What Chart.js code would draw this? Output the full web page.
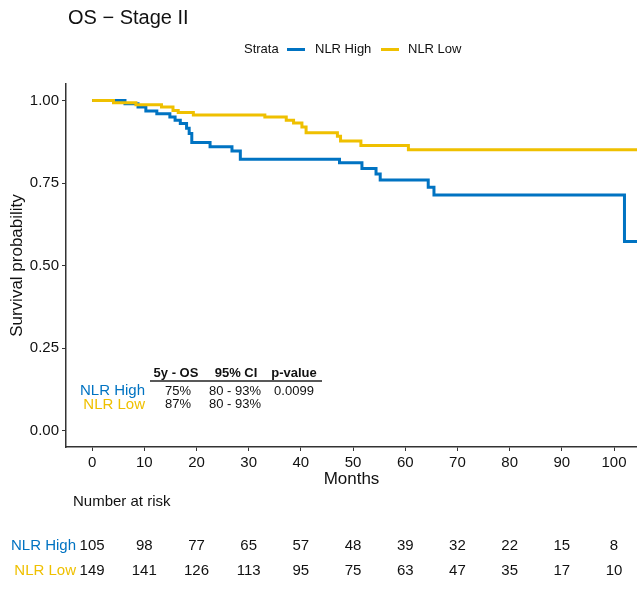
<!DOCTYPE html>
<html>
<head>
<meta charset="utf-8">
<title>OS − Stage II</title>
<script src="https://cdn.jsdelivr.net/npm/chart.js@4/dist/chart.umd.min.js"></script>
<style>
  html, body { margin: 0; padding: 0; background: #ffffff; }
  #wrap { position: relative; width: 637px; height: 592px; }
</style>
</head>
<body>
<div id="wrap"><canvas id="km" width="637" height="592"></canvas></div>
<script>
// Kaplan–Meier step estimates (months, survival probability after each step)
const highTimes = [0, 6.3, 8.8, 10.3, 12.4, 14.9, 15.9, 16.9, 18.1, 18.6, 19.1, 22.6, 26.8, 28.4, 47.4, 51.7, 54.4, 55.2, 64.4, 65.5, 102.0, 104.4];
const highSurv  = [1.0, 0.99, 0.98, 0.968, 0.96, 0.95, 0.94, 0.93, 0.916, 0.90, 0.873, 0.86, 0.847, 0.822, 0.811, 0.794, 0.777, 0.759, 0.737, 0.714, 0.573, 0.573];

const lowTimes = [0, 4.1, 8.4, 13.3, 15.5, 16.5, 19.4, 33.1, 37.2, 38.6, 40.2, 41.0, 47.0, 47.6, 51.5, 60.6, 104.4];
const lowSurv  = [1.0, 0.993, 0.987, 0.98, 0.97, 0.964, 0.956, 0.95, 0.94, 0.932, 0.92, 0.902, 0.892, 0.877, 0.864, 0.851, 0.851];

// Axis ticks
const monthTicks = [0, 10, 20, 30, 40, 50, 60, 70, 80, 90, 100];
const probTicks = [0, 0.25, 0.5, 0.75, 1.0];

// Number at risk at each month tick
const riskHigh = [105, 98, 77, 65, 57, 48, 39, 32, 22, 15, 8];
const riskLow  = [149, 141, 126, 113, 95, 75, 63, 47, 35, 17, 10];

// Summary table
const strata = ['NLR High', 'NLR Low'];
const os5y = ['75%', '87%'];
const ci95 = ['80 - 93%', '80 - 93%'];
const pValue = '0.0099';

const BLUE = '#0073C2';
const YELLOW = '#EFC000';
const INK = '#111111';
const FONT = '"Liberation Sans", Arial, Helvetica, sans-serif';

function toPoints(xs, ys) {
  return xs.map((x, i) => ({ x: x, y: ys[i] }));
}

const extras = {
  id: 'kmExtras',
  afterDraw(chart) {
    const ctx = chart.ctx;
    const xs = chart.scales.x;
    ctx.save();
    ctx.textBaseline = 'middle';

    // Title
    ctx.fillStyle = INK;
    ctx.font = '20px ' + FONT;
    ctx.textAlign = 'left';
    ctx.fillText('OS \u2212 Stage II', 68, 18);

    // Legend
    ctx.font = '13px ' + FONT;
    ctx.fillStyle = INK;
    ctx.fillText('Strata', 244, 49.5);
    ctx.lineWidth = 3;
    ctx.strokeStyle = BLUE;
    ctx.beginPath(); ctx.moveTo(287, 49.5); ctx.lineTo(305, 49.5); ctx.stroke();
    ctx.fillStyle = INK;
    ctx.fillText(strata[0], 315, 49.5);
    ctx.strokeStyle = YELLOW;
    ctx.beginPath(); ctx.moveTo(381, 49.5); ctx.lineTo(399, 49.5); ctx.stroke();
    ctx.fillStyle = INK;
    ctx.fillText(strata[1], 408, 49.5);

    // Summary table inside the plot
    ctx.font = 'bold 13px ' + FONT;
    ctx.textAlign = 'center';
    ctx.fillStyle = INK;
    ctx.fillText('5y - OS', 176, 373);
    ctx.fillText('95% CI', 236, 373);
    ctx.fillText('p-value', 294, 373);
    ctx.strokeStyle = '#222';
    ctx.lineWidth = 1.5;
    ctx.beginPath(); ctx.moveTo(150, 381); ctx.lineTo(322, 381); ctx.stroke();

    const rowY = [391, 404.5];
    const rowCol = [BLUE, YELLOW];
    for (let i = 0; i < strata.length; i++) {
      ctx.font = '15px ' + FONT;
      ctx.textAlign = 'right';
      ctx.fillStyle = rowCol[i];
      ctx.fillText(strata[i], 145, rowY[i]);
      ctx.font = '13px ' + FONT;
      ctx.textAlign = 'center';
      ctx.fillStyle = INK;
      ctx.fillText(os5y[i], 178, rowY[i]);
      ctx.fillText(ci95[i], 235, rowY[i]);
    }
    ctx.fillText(pValue, 294, rowY[0]);

    // Number at risk table
    ctx.font = '15px ' + FONT;
    ctx.textAlign = 'left';
    ctx.fillStyle = INK;
    ctx.fillText('Number at risk', 73, 502);

    const riskRows = [riskHigh, riskLow];
    const riskY = [546, 571];
    for (let r = 0; r < riskRows.length; r++) {
      ctx.textAlign = 'right';
      ctx.fillStyle = rowCol[r];
      ctx.fillText(strata[r], 76, riskY[r]);
      ctx.textAlign = 'center';
      ctx.fillStyle = INK;
      riskRows[r].forEach((n, i) => {
        ctx.fillText(String(n), xs.getPixelForValue(monthTicks[i]), riskY[r]);
      });
    }
    ctx.restore();
  }
};

new Chart(document.getElementById('km'), {
  type: 'line',
  data: {
    datasets: [
      {
        label: strata[1],
        data: toPoints(lowTimes, lowSurv),
        borderColor: YELLOW,
        backgroundColor: YELLOW,
        borderWidth: 3,
        stepped: true,
        pointRadius: 0,
        fill: false,
        order: 0
      },
      {
        label: strata[0],
        data: toPoints(highTimes, highSurv),
        borderColor: BLUE,
        backgroundColor: BLUE,
        borderWidth: 3,
        stepped: true,
        pointRadius: 0,
        fill: false,
        order: 1
      }
    ]
  },
  options: {
    responsive: false,
    animation: false,
    devicePixelRatio: 1,
    layout: { padding: { left: 0, top: 84, right: 0, bottom: 102 } },
    plugins: {
      legend: { display: false },
      title: { display: false },
      tooltip: { enabled: false }
    },
    scales: {
      x: {
        type: 'linear',
        min: -5,
        max: 104.4,
        afterBuildTicks: (s) => { s.ticks = monthTicks.map(v => ({ value: v })); },
        afterFit: (s) => { s.height = 43; },
        grid: { drawOnChartArea: false, drawTicks: true, tickLength: 4, color: '#333', lineWidth: 1 },
        border: { display: true, color: '#333', width: 1.5 },
        ticks: { color: INK, font: { family: FONT, size: 15 }, padding: 3, maxRotation: 0, autoSkip: false },
        title: { display: true, text: 'Months', color: INK, font: { family: FONT, size: 17 }, padding: { top: 0, bottom: 0 } }
      },
      y: {
        type: 'linear',
        min: -0.05,
        max: 1.05,
        afterBuildTicks: (s) => { s.ticks = probTicks.map(v => ({ value: v })); },
        afterFit: (s) => { s.width = 66; },
        grid: { drawOnChartArea: false, drawTicks: true, tickLength: 4, color: '#333', lineWidth: 1 },
        border: { display: true, color: '#333', width: 1.5 },
        ticks: { color: INK, font: { family: FONT, size: 15 }, padding: 3, callback: (v) => Number(v).toFixed(2) },
        title: { display: true, text: 'Survival probability', color: INK, font: { family: FONT, size: 17 }, padding: { top: 7, bottom: 0 } }
      }
    }
  },
  plugins: [extras]
});
</script>
</body>
</html>
